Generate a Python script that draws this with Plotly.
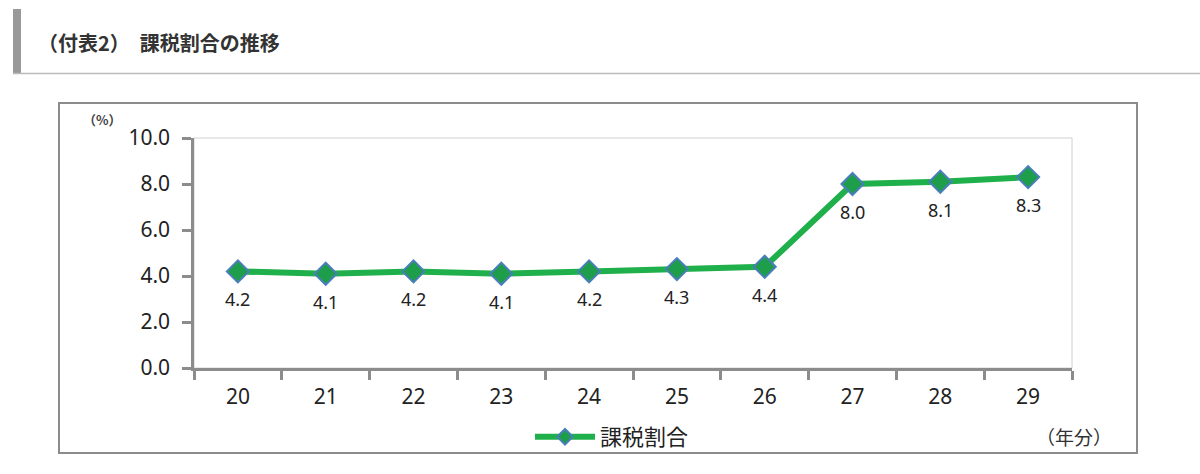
import plotly.graph_objects as go

years = ["20", "21", "22", "23", "24", "25", "26", "27", "28", "29"]
ratio = [4.2, 4.1, 4.2, 4.1, 4.2, 4.3, 4.4, 8.0, 8.1, 8.3]
y_ticks = [0, 2, 4, 6, 8, 10]
y_tick_labels = ["0.0", "2.0", "4.0", "6.0", "8.0", "10.0"]
series_name = "課税割合"
title_text = "（付表2）　課税割合の推移"

W, H = 1200, 474
L, R, T, B = 194, 1072, 138, 368  # plot area in pixels


def px(x):
    return (x - L) / (R - L)


def py(y):
    return (B - y) / (B - T)


FONT = "Noto Sans, Noto Sans CJK JP, sans-serif"
JP = "Noto Sans CJK JP, sans-serif"
LINE = dict(color="#1FB04B", width=6)
MLINE = dict(color="#4A7EBB", width=2)

fig = go.Figure()
fig.add_trace(go.Scatter(
    x=years, y=ratio, name=series_name, mode="lines+markers",
    line=LINE,
    marker=dict(symbol="diamond", size=17, color="#1E9E4A", line=MLINE),
    cliponaxis=False, showlegend=False,
))
# legend entry (smaller marker, as in the reference legend)
fig.add_trace(go.Scatter(
    x=[None], y=[None], name=series_name, mode="lines+markers",
    line=LINE,
    marker=dict(symbol="diamond", size=12, color="#1E9E4A", line=MLINE),
    showlegend=True,
))

annotations = []
for i, v in enumerate(ratio):
    annotations.append(dict(x=i, y=v, xref="x", yref="y", text=f"{v:.1f}",
                            showarrow=False, yshift=-28,
                            font=dict(family=FONT, size=18, color="#222")))

annotations += [
    dict(x=px(102), y=py(119), xref="paper", yref="paper", text="<b>（%）</b>",
         showarrow=False, xanchor="center", yanchor="middle",
         font=dict(family=JP, size=13, color="#444")),
    dict(x=px(1114), y=py(436), xref="paper", yref="paper", text="（年分）",
         showarrow=False, xanchor="right", yanchor="middle",
         font=dict(family=JP, size=19, color="#333")),
    dict(x=px(36), y=py(43), xref="paper", yref="paper", text=f"<b>{title_text}</b>",
         showarrow=False, xanchor="left", yanchor="middle",
         font=dict(family=JP, size=20, color="#333")),
]

shapes = [
    # header bar and rule
    dict(type="rect", xref="paper", yref="paper", x0=px(13), x1=px(21), y0=py(73), y1=py(9),
         fillcolor="#999999", line=dict(width=0), layer="below"),
    dict(type="line", xref="paper", yref="paper", x0=px(13), x1=px(1200), y0=py(73.5), y1=py(73.5),
         line=dict(color="#bbbbbb", width=1.5)),
    # chart frame
    dict(type="rect", xref="paper", yref="paper", x0=px(59), x1=px(1137), y0=py(453), y1=py(103),
         line=dict(color="#8c8c8c", width=2), layer="below"),
    # plot area light border
    dict(type="rect", xref="paper", yref="paper", x0=0, x1=1, y0=0, y1=1,
         line=dict(color="#d0d0d0", width=1), layer="below"),
]

fig.update_layout(
    width=W, height=H,
    margin=dict(l=L, r=W - R, t=T, b=H - B, autoexpand=False),
    paper_bgcolor="white", plot_bgcolor="white",
    showlegend=True,
    legend=dict(x=px(530), y=py(437), xanchor="left", yanchor="middle",
                orientation="h", font=dict(family=JP, size=22, color="#222"),
                bgcolor="rgba(0,0,0,0)", itemwidth=60),
    annotations=annotations, shapes=shapes,
    font=dict(family=FONT, color="#222"),
)
fig.update_xaxes(
    type="category", range=[-0.5, 9.5], tickson="boundaries",
    showline=True, linecolor="#8c8c8c", linewidth=2.5,
    ticks="outside", ticklen=9, tickwidth=2.5, tickcolor="#8c8c8c",
    showgrid=False, zeroline=False,
    tickfont=dict(family=FONT, size=21, color="#222"), ticklabelstandoff=8,
)
fig.update_yaxes(
    range=[0, 10], tickvals=y_ticks, ticktext=y_tick_labels,
    showline=True, linecolor="#8c8c8c", linewidth=2.5,
    ticks="outside", ticklen=9, tickwidth=2.5, tickcolor="#8c8c8c",
    showgrid=False, zeroline=False,
    tickfont=dict(family=FONT, size=21, color="#222"), ticklabelstandoff=8,
)

fig.write_html("out.html", post_script="document.body.style.margin='0';",
               config={"displayModeBar": False})
